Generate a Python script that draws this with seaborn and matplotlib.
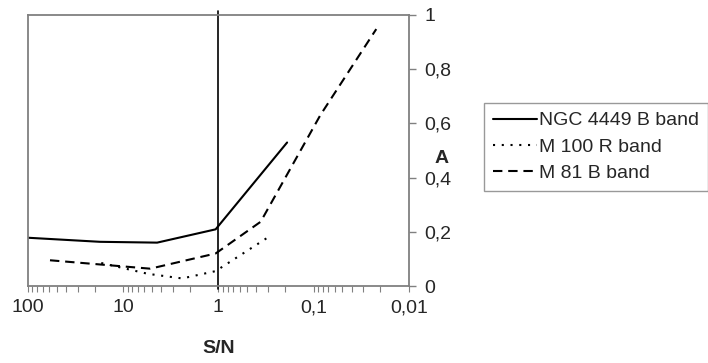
import numpy as np
import pandas as pd
import matplotlib
matplotlib.use('Agg')
import matplotlib.pyplot as plt
import seaborn as sns
from matplotlib.ticker import FuncFormatter, LogLocator, FixedLocator

# --- Data ---
ngc_sn = [100, 17.5, 4.4, 1.07, 0.19]
ngc_a = [0.178, 0.163, 0.160, 0.209, 0.529]

m100_sn = [17.0, 5.5, 2.4, 1.07, 0.30]
m100_a = [0.085, 0.045, 0.028, 0.055, 0.180]

m81_sn = [58.7, 5.2, 1.07, 0.36, 0.085, 0.022]
m81_a = [0.095, 0.064, 0.120, 0.237, 0.630, 0.947]

labels = ['NGC 4449 B band', 'M 100 R band', 'M 81 B band']
x_ticks = [100, 10, 1, 0.1, 0.01]
y_ticks = [0, 0.2, 0.4, 0.6, 0.8, 1]

# --- Style ---
sns.set_theme(style='white')
plt.rcParams['font.family'] = ['Liberation Sans', 'DejaVu Sans']
plt.rcParams['font.size'] = 14

fig = plt.figure(figsize=(7.08, 3.63), dpi=100)
ax = fig.add_axes([0.0395, 0.212, 0.538, 0.7475])

series = [
    (ngc_sn, ngc_a, labels[0], '-'),
    (m100_sn, m100_a, labels[1], (0, (1, 3.2))),
    (m81_sn, m81_a, labels[2], (0, (4.5, 2.8))),
]
for xs, ys, lab, ls in series:
    df = pd.DataFrame({'S/N': xs, 'A': ys})
    sns.lineplot(data=df, x='S/N', y='A', ax=ax, color='black',
                 linewidth=1.5, linestyle=ls, label=lab, sort=False)

ax.set_xscale('log')
ax.set_xlim(100, 0.01)
ax.set_ylim(0, 1)

# vertical marker at S/N = 1
ax.axvline(1, ymin=-0.012, ymax=1.013, color='black', linewidth=1.2, clip_on=False)

# --- Axes formatting ---
for s in ax.spines.values():
    s.set_color('#808080')
    s.set_linewidth(1.3)

def comma_fmt(v, pos):
    txt = ('%g' % v).replace('.', ',')
    return txt

ax.xaxis.set_major_locator(FixedLocator(x_ticks))
ax.xaxis.set_minor_locator(LogLocator(base=10, subs=np.arange(2, 10)))
ax.xaxis.set_major_formatter(FuncFormatter(comma_fmt))
ax.xaxis.set_minor_formatter(FuncFormatter(lambda v, p: ''))
ax.yaxis.set_major_locator(FixedLocator(y_ticks))
ax.yaxis.set_major_formatter(FuncFormatter(comma_fmt))

ax.yaxis.tick_right()
ax.tick_params(axis='y', which='major', direction='out', length=5, width=1,
               color='#808080', pad=6, labelsize=14, right=True, left=False)
ax.tick_params(axis='x', which='both', direction='out', length=4, width=0.8,
               color='#808080', pad=5.5, labelsize=14, bottom=True)

ax.set_xlabel('S/N', fontweight='bold', fontsize=14)
ax.xaxis.set_label_coords(0.5, -0.2)
ax.set_ylabel('A', fontweight='bold', fontsize=14, rotation=0, va='center', ha='center')
ax.yaxis.set_label_position('right')
ax.yaxis.set_label_coords(1.087, 0.50)

leg = ax.legend(loc='upper left', bbox_to_anchor=(484 / 708, 1 - 103 / 363),
                bbox_transform=fig.transFigure, borderaxespad=0, frameon=True,
                fancybox=False, handlelength=2.3, handletextpad=0.1,
                labelspacing=0.45, borderpad=0.45, fontsize=14)
leg.get_frame().set_edgecolor('#808080')
leg.get_frame().set_linewidth(1.0)

fig.savefig('out.png', dpi=100)
